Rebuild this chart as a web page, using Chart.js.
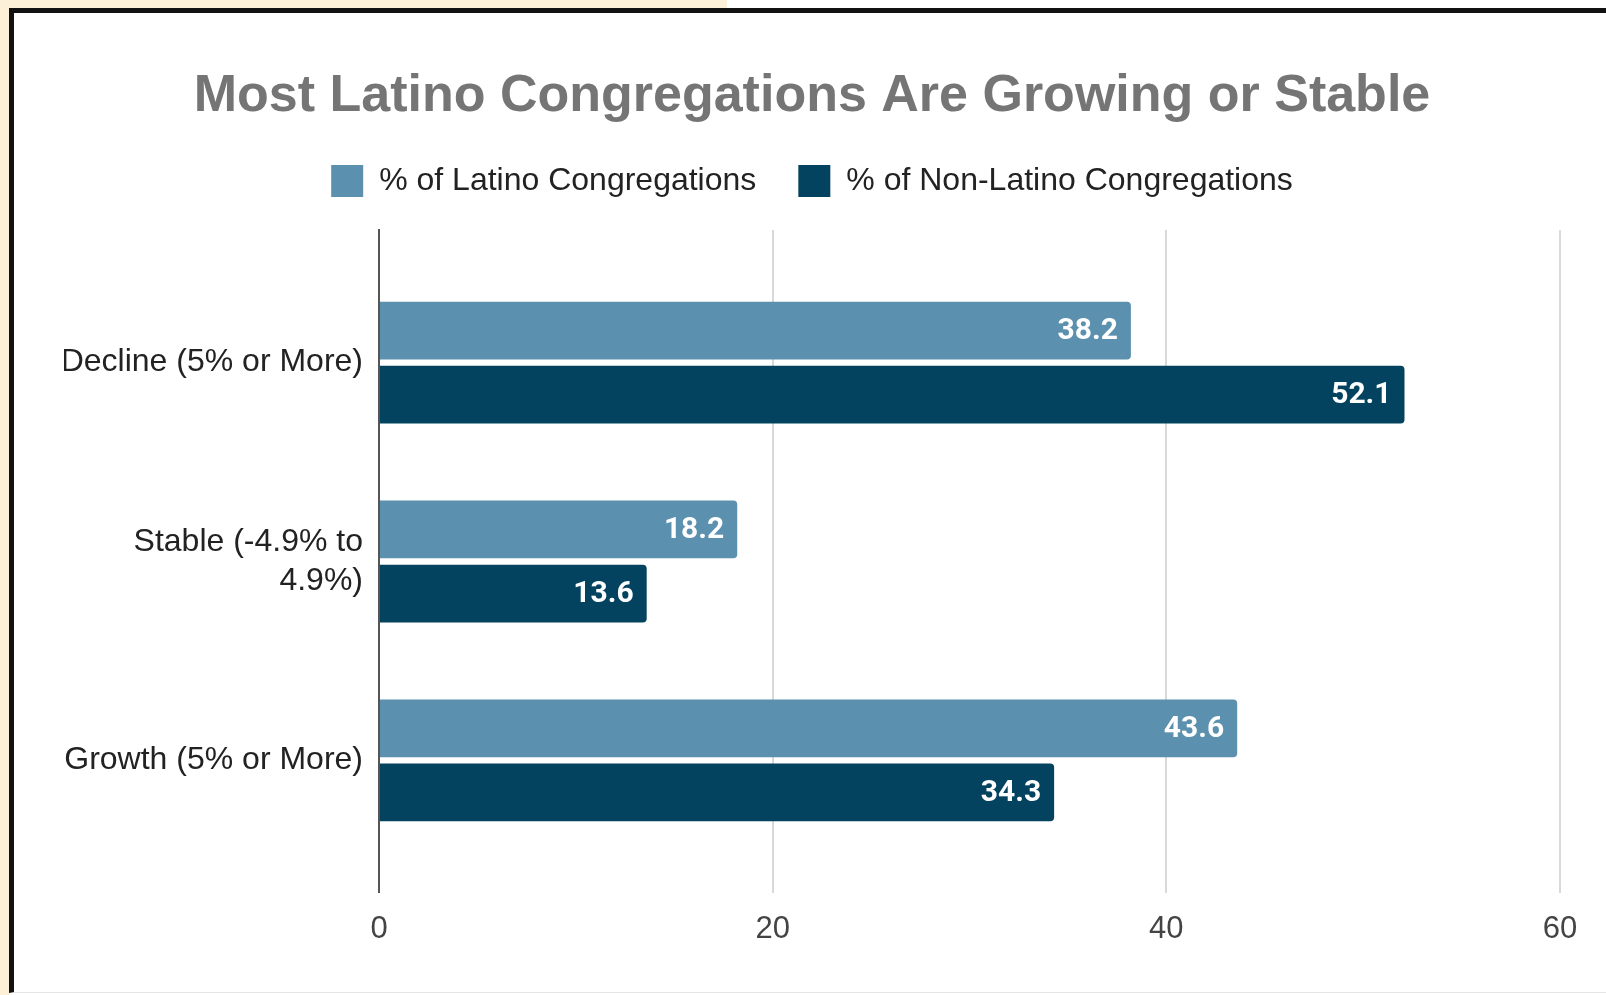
<!DOCTYPE html>
<html>
<head>
<meta charset="utf-8">
<script src="https://cdn.jsdelivr.net/npm/chart.js@4/dist/chart.umd.min.js"></script>
<style>
  html, body { margin: 0; padding: 0; width: 1606px; height: 995px; overflow: hidden; background: #fff; }
  #beigeTop { position: absolute; left: 0; top: 0; width: 727px; height: 9px; background: #fdf0d8; }
  #beigeLeft { position: absolute; left: 0; top: 0; width: 9px; height: 995px; background: #fdf0d8; }
  #frame {
    position: absolute; left: 9px; top: 8px; right: 0; bottom: 2px;
    border-left: 5px solid #111; border-top: 5px solid #111; border-bottom: 1px solid #e6e6e6;
    background: #fff;
  }
  #wrap { position: absolute; left: 0; top: 0; width: 1606px; height: 995px; }
</style>
</head>
<body>
<div id="beigeTop"></div>
<div id="beigeLeft"></div>
<div id="frame"></div>
<div id="wrap"><canvas id="chart" width="1606" height="995"></canvas></div>
<script>
const categories = ['Decline (5% or More)', ['Stable (-4.9% to', '4.9%)'], 'Growth (5% or More)'];
const latino = [38.2, 18.2, 43.6];
const nonLatino = [52.1, 13.6, 34.3];
const xTicks = [0, 20, 40, 60];

const barLabels = {
  id: 'barLabels',
  afterDatasetsDraw(chart) {
    const ctx = chart.ctx;
    ctx.save();
    ctx.font = 'bold 30px Roboto';
    ctx.fillStyle = '#ffffff';
    ctx.textAlign = 'right';
    ctx.textBaseline = 'middle';
    chart.data.datasets.forEach((ds, i) => {
      chart.getDatasetMeta(i).data.forEach((bar, j) => {
        ctx.fillText(ds.data[j].toFixed(1), bar.x - 13, bar.y + 1);
      });
    });
    ctx.restore();
  }
};

new Chart(document.getElementById('chart').getContext('2d'), {
  type: 'bar',
  data: {
    labels: categories,
    datasets: [{
      label: '% of Latino Congregations',
      data: latino,
      backgroundColor: '#5b91af',
      borderRadius: 4,
      categoryPercentage: 0.645,
      barPercentage: 0.9
    }, {
      label: '% of Non-Latino Congregations',
      data: nonLatino,
      backgroundColor: '#03435f',
      borderRadius: 4,
      categoryPercentage: 0.645,
      barPercentage: 0.9
    }]
  },
  options: {
    indexAxis: 'y',
    responsive: false,
    animation: false,
    layout: { padding: { left: 64, right: 46, top: 0, bottom: 29 } },
    plugins: {
      tooltip: { enabled: false },
      title: {
        display: true,
        text: 'Most Latino Congregations Are Growing or Stable',
        color: '#757575',
        font: { family: 'Liberation Sans', size: 52, weight: 'bold', lineHeight: 1 },
        padding: { top: 71, bottom: 0 }
      },
      // empty spacer between legend and plot
      subtitle: {
        display: true,
        text: '',
        weight: 500,
        font: { size: 1, lineHeight: 1 },
        padding: { top: 22, bottom: 0 }
      },
      legend: {
        position: 'top',
        labels: {
          color: '#222',
          font: { family: 'Liberation Sans', size: 32 },
          boxWidth: 32,
          boxHeight: 32,
          padding: 42
        }
      }
    },
    scales: {
      x: {
        min: 0,
        max: 60,
        afterBuildTicks: s => { s.ticks = xTicks.map(v => ({ value: v })); },
        grid: { color: '#d9d9d9', lineWidth: 2, drawTicks: false },
        border: { display: false },
        ticks: { color: '#444', font: { family: 'Liberation Sans', size: 31 }, padding: 18 }
      },
      y: {
        // spread the three groups like the original, with room above and below
        afterBuildTicks: s => { s._startValue = -0.667; s._valueRange = 3.333; },
        afterFit: s => { s.width = 315; },
        grid: { display: false, drawTicks: false },
        border: { display: true, color: '#555', width: 2 },
        ticks: { color: '#222', font: { family: 'Liberation Sans', size: 32, lineHeight: 1.2 }, padding: 16 }
      }
    }
  },
  plugins: [barLabels]
});
</script>
</body>
</html>
